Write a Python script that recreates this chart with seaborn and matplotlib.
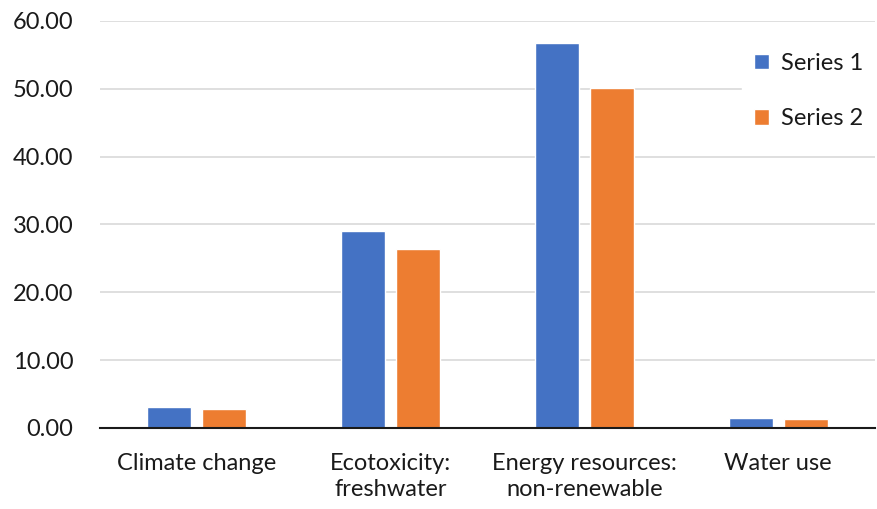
import matplotlib
matplotlib.use("Agg")
import matplotlib.pyplot as plt
import seaborn as sns
import pandas as pd
from matplotlib.patches import Patch

categories = ["Climate change", "Ecotoxicity:\nfreshwater", "Energy resources:\nnon-renewable", "Water use"]
series_1 = [3.10, 29.05, 56.80, 1.52]
series_2 = [2.75, 26.45, 50.15, 1.28]
series_names = ["Series 1", "Series 2"]
colors = ["#4472C4", "#ED7D31"]
y_ticks = [0, 10, 20, 30, 40, 50, 60]

df = pd.DataFrame({
    "category": categories * 2,
    "value": series_1 + series_2,
    "series": [series_names[0]] * len(categories) + [series_names[1]] * len(categories),
})

sns.set_theme(style="white")
plt.rcParams["font.family"] = ["Lato", "DejaVu Sans"]

fig = plt.figure(figsize=(8.78, 5.09), dpi=100)
ax = fig.add_axes([100 / 878, 81 / 509, 775 / 878, 407 / 509])

sns.barplot(data=df, x="category", y="value", hue="series", palette=colors,
            width=0.567, gap=0.2, ax=ax, legend=False, saturation=1)

ax.set_ylim(0, 60)
ax.set_xlim(-0.5, len(categories) - 0.5)
ax.set_yticks(y_ticks)
ax.set_yticklabels([f"{v:.2f}" for v in y_ticks], fontsize=17, color="#1a1a1a")
ax.tick_params(axis="x", labelsize=17, colors="#1a1a1a", pad=18, length=0)
ax.tick_params(axis="y", pad=19, length=0)
for lbl in ax.get_xticklabels():
    lbl.set_linespacing(1.3)
ax.yaxis.grid(True, color="#d9d9d9", linewidth=1.2)
ax.set_axisbelow(True)
ax.set_xlabel("")
ax.set_ylabel("")
for side in ["top", "right", "left"]:
    ax.spines[side].set_visible(False)
ax.spines["bottom"].set_color("#1a1a1a")
ax.spines["bottom"].set_linewidth(1.5)

handles = [Patch(facecolor=c, label=n) for c, n in zip(colors, series_names)]
leg = ax.legend(handles=handles, loc="upper right", bbox_to_anchor=(1.015, 0.98),
                frameon=True, framealpha=1, edgecolor="white", fontsize=17,
                labelspacing=1.45, handlelength=0.65, handleheight=0.65,
                handletextpad=0.5, borderpad=0.5)
for t in leg.get_texts():
    t.set_color("#1a1a1a")

fig.savefig("out.png", dpi=100)
